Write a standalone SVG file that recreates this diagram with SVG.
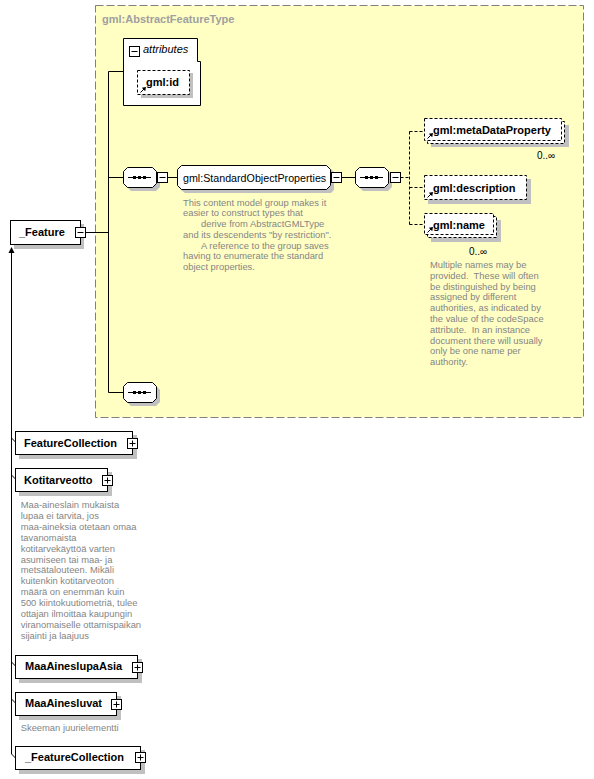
<svg xmlns="http://www.w3.org/2000/svg" xmlns:xlink="http://www.w3.org/1999/xlink" width="594" height="779" viewBox="0 0 594 779">
<style>
.lbl{font-family:"Liberation Sans",Arial,sans-serif;font-size:11px;font-weight:bold;fill:#000;}
.reg{font-family:"Liberation Sans",Arial,sans-serif;font-size:10.7px;fill:#000;}
.ann{font-family:"Liberation Sans",Arial,sans-serif;font-size:9.4px;fill:#858585;white-space:pre;}
.occ{font-family:"Liberation Sans",Arial,sans-serif;font-size:10px;fill:#000;}
.box{fill:#fff;stroke:#000;stroke-width:1;}
.dbox{fill:#fff;stroke:#000;stroke-width:1;stroke-dasharray:3,2;}
.sh{fill:#c0c0c0;}
.ln{fill:none;stroke:#000;stroke-width:1;}
.dln{fill:none;stroke:#000;stroke-width:1;stroke-dasharray:3,2;}
.ico{fill:#fff;stroke:#000;stroke-width:1;}
</style>
<defs>
<g id="minus"><rect class="ico" x="0.5" y="0.5" width="10" height="10"/><path class="ln" d="M2.5,5.5 H8.5"/></g>
<g id="plus"><rect class="ico" x="0.5" y="0.5" width="10" height="10"/><path class="ln" d="M2.5,5.5 H8.5 M5.5,2.5 V8.5"/></g>
<g id="ref"><path class="ln" d="M0.5,-0.5 L4.5,-4.5"/><path d="M6,-6 L1.8,-5.2 L5.2,-1.8 Z" fill="#000"/></g>
<g id="seqdots"><path class="ln" d="M5,10.5 H28"/><rect x="10" y="9" width="3" height="3" fill="#000"/><rect x="15" y="9" width="3" height="3" fill="#000"/><rect x="20" y="9" width="3" height="3" fill="#000"/></g>
</defs>

<g id="type-box">
<rect x="95.5" y="5.5" width="488" height="412" fill="#ffffc4" stroke="#808080" stroke-width="1" stroke-dasharray="8,3"/>
<text x="102" y="23" style="font-family:'Liberation Sans',Arial,sans-serif;font-size:11px;font-weight:bold;fill:#a0a0a0;">gml:AbstractFeatureType</text>
</g>

<g id="connectors">
<path class="ln" d="M85.5,232.5 H108.5 M108.5,71.5 V392.5 M108.5,71.5 H123.5 M108.5,177.5 H123.5 M108.5,392.5 H123.5"/>
<path class="ln" d="M167.5,177.5 H177.5 M341.5,177.5 H355.5"/>
<path class="dln" d="M400.5,177.5 H409.5 M409.5,131.5 V224.5 M409.5,131.5 H424.5 M409.5,187.5 H424.5 M409.5,224.5 H424.5"/>
<path class="ln" d="M11.5,252 V754 M11.5,438 L15.5,442 M11.5,475 L15.5,479 M11.5,662 L15.5,666 M11.5,699 L15.5,703 M11.5,754 L15.5,758"/>
<path d="M11.5,247 L8.5,253 H14.5 Z" fill="#000"/>
</g>

<g id="attributes">
<path class="box" d="M123.5,38.5 H197.5 V61.5 H200.5 V105.5 H123.5 Z"/>
<use xlink:href="#minus" x="129" y="46"/>
<text x="143" y="53" style="font-family:'Liberation Sans',Arial,sans-serif;font-size:11px;font-style:italic;fill:#000;">attributes</text>
</g>

<g id="gml-id">
<rect class="sh" x="141" y="73" width="52" height="25"/>
<rect class="dbox" x="137.5" y="70.5" width="52" height="24"/>
<use xlink:href="#ref" x="140" y="93"/>
<text class="lbl" x="146" y="86">gml:id</text>
</g>

<g id="feature">
<rect class="sh" x="14" y="224" width="70" height="25"/>
<rect class="box" x="10.5" y="220.5" width="70" height="24"/>
<text class="lbl" x="19" y="236">_Feature</text>
<use xlink:href="#minus" x="75" y="227"/>
</g>

<g id="seq1">
<path class="sh" d="M131,171 H156 L160,175 V187 L156,191 H131 L127,187 V175 Z"/>
<path class="box" d="M127.5,167.5 H152.5 L156.5,171.5 V183.5 L152.5,187.5 H127.5 L123.5,183.5 V171.5 Z"/>
<use xlink:href="#seqdots" x="123" y="167"/>
<use xlink:href="#minus" x="157" y="172"/>
</g>

<g id="standard-object-properties">
<path class="sh" d="M185,169 H331 L334,172 V190 L331,193 H185 L181,190 V172 Z"/>
<path class="box" d="M181.5,165.5 H326.5 L330.5,169.5 V185.5 L326.5,189.5 H181.5 L177.5,185.5 V169.5 Z"/>
<text class="reg" x="183" y="182">gml:StandardObjectProperties</text>
<use xlink:href="#minus" x="331" y="172"/>
<text class="ann"><tspan x="183" y="205.5">This content model group makes it</tspan><tspan x="183" y="216.2">easier to construct types that</tspan><tspan x="201" y="227">derive from AbstractGMLType</tspan><tspan x="183" y="237.7">and its descendents "by restriction".</tspan><tspan x="201" y="248.5">A reference to the group saves</tspan><tspan x="183" y="259.2">having to enumerate the standard</tspan><tspan x="183" y="270">object properties.</tspan></text>
</g>

<g id="seq2">
<path class="sh" d="M363,171 H388 L392,175 V187 L388,191 H363 L359,187 V175 Z"/>
<path class="box" d="M359.5,167.5 H384.5 L388.5,171.5 V183.5 L384.5,187.5 H359.5 L355.5,183.5 V171.5 Z"/>
<use xlink:href="#seqdots" x="355" y="167"/>
<use xlink:href="#minus" x="390" y="172"/>
</g>

<g id="metaDataProperty">
<rect class="sh" x="431" y="125" width="138" height="22"/>
<rect class="dbox" x="427.5" y="121.5" width="137" height="22"/>
<rect class="dbox" x="424.5" y="118.5" width="137" height="22"/>
<use xlink:href="#ref" x="427" y="139"/>
<text class="lbl" x="433" y="134">gml:metaDataProperty</text>
<text class="occ" x="537" y="159">0..∞</text>
</g>

<g id="description">
<rect class="sh" x="428" y="179" width="103" height="25"/>
<rect class="dbox" x="424.5" y="175.5" width="102" height="24"/>
<use xlink:href="#ref" x="427" y="198"/>
<text class="lbl" x="433" y="192">gml:description</text>
</g>

<g id="name">
<rect class="sh" x="431" y="220" width="70" height="22"/>
<rect class="dbox" x="427.5" y="216.5" width="69" height="21"/>
<rect class="dbox" x="424.5" y="213.5" width="69" height="21"/>
<use xlink:href="#ref" x="427" y="233"/>
<text class="lbl" x="433" y="229">gml:name</text>
<text class="occ" x="469" y="255">0..∞</text>
<text class="ann"><tspan x="430" y="268">Multiple names may be</tspan><tspan x="430" y="278.8">provided.  These will often</tspan><tspan x="430" y="289.6">be distinguished by being</tspan><tspan x="430" y="300.4">assigned by different</tspan><tspan x="430" y="311.2">authorities, as indicated by</tspan><tspan x="430" y="322">the value of the codeSpace</tspan><tspan x="430" y="332.8">attribute.  In an instance</tspan><tspan x="430" y="343.6">document there will usually</tspan><tspan x="430" y="354.4">only be one name per</tspan><tspan x="430" y="365.2">authority.</tspan></text>
</g>

<g id="seq3">
<path class="sh" d="M131,386 H156 L160,390 V402 L156,406 H131 L127,402 V390 Z"/>
<path class="box" d="M127.5,382.5 H152.5 L156.5,386.5 V398.5 L152.5,402.5 H127.5 L123.5,398.5 V386.5 Z"/>
<use xlink:href="#seqdots" x="123" y="382"/>
</g>

<g id="FeatureCollection">
<rect class="sh" x="19" y="435" width="118" height="24"/>
<rect class="box" x="15.5" y="431.5" width="117" height="23"/>
<text class="lbl" x="24" y="447">FeatureCollection</text>
<use xlink:href="#plus" x="127" y="438"/>
</g>

<g id="Kotitarveotto">
<rect class="sh" x="19" y="472" width="93" height="24"/>
<rect class="box" x="15.5" y="468.5" width="92" height="23"/>
<text class="lbl" x="24" y="484">Kotitarveotto</text>
<use xlink:href="#plus" x="102" y="475"/>
<text class="ann"><tspan x="20.7" y="508">Maa-aineslain mukaista</tspan><tspan x="20.7" y="518.9">lupaa ei tarvita, jos</tspan><tspan x="20.7" y="529.8">maa-aineksia otetaan omaa</tspan><tspan x="20.7" y="540.7">tavanomaista</tspan><tspan x="20.7" y="551.6">kotitarvekäyttöä varten</tspan><tspan x="20.7" y="562.5">asumiseen tai maa- ja</tspan><tspan x="20.7" y="573.4">metsätalouteen. Mikäli</tspan><tspan x="20.7" y="584.3">kuitenkin kotitarveoton</tspan><tspan x="20.7" y="595.2">määrä on enemmän kuin</tspan><tspan x="20.7" y="606.1">500 kiintokuutiometriä, tulee</tspan><tspan x="20.7" y="617">ottajan ilmoittaa kaupungin</tspan><tspan x="20.7" y="627.9">viranomaiselle ottamispaikan</tspan><tspan x="20.7" y="638.8">sijainti ja laajuus</tspan></text>
</g>

<g id="MaaAineslupaAsia">
<rect class="sh" x="19" y="659" width="123" height="24"/>
<rect class="box" x="15.5" y="655.5" width="122" height="23"/>
<text class="lbl" x="25" y="670">MaaAineslupaAsia</text>
<use xlink:href="#plus" x="132" y="662"/>
</g>

<g id="MaaAinesluvat">
<rect class="sh" x="19" y="696" width="102" height="24"/>
<rect class="box" x="15.5" y="692.5" width="101" height="23"/>
<text class="lbl" x="25" y="707">MaaAinesluvat</text>
<use xlink:href="#plus" x="111" y="699"/>
<text class="ann" x="20.7" y="731">Skeeman juurielementti</text>
</g>

<g id="_FeatureCollection">
<rect class="sh" x="19" y="750" width="126" height="24"/>
<rect class="box" x="15.5" y="746.5" width="125" height="23"/>
<text class="lbl" x="25" y="761">_FeatureCollection</text>
<use xlink:href="#plus" x="135" y="752"/>
</g>
</svg>
